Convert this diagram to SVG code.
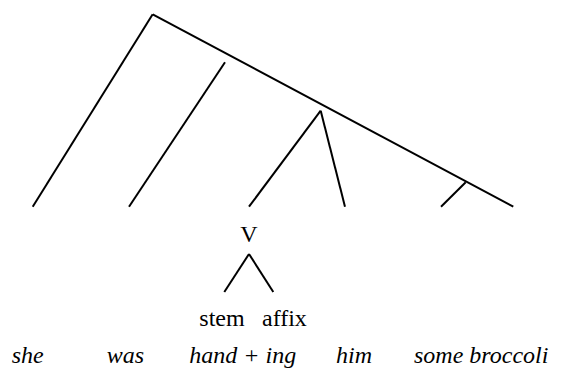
<svg xmlns="http://www.w3.org/2000/svg" width="564" height="374" viewBox="0 0 564 374">
<style>
.e{stroke:#000;stroke-width:2;fill:none}
text{font-family:'Liberation Serif','DejaVu Serif',serif;font-size:24px;fill:#000}
.i{font-style:italic}
</style>
<rect width="564" height="374" fill="#fff"/>
<g id="connectors">
<line class="e" x1="152.7" y1="14.3" x2="32.7" y2="206.7"/>
<line class="e" x1="152.7" y1="14.3" x2="513.3" y2="206.7"/>
<line class="e" x1="225" y1="62.3" x2="129" y2="206.7"/>
<line class="e" x1="320.7" y1="110.7" x2="249" y2="206.7"/>
<line class="e" x1="320.7" y1="110.7" x2="345" y2="206.7"/>
<line class="e" x1="465.7" y1="182.3" x2="441" y2="206.7"/>
<line class="e" x1="249" y1="254" x2="224.3" y2="292"/>
<line class="e" x1="249" y1="254" x2="273.3" y2="292"/>
</g>
<g id="V"><text x="249" y="242" text-anchor="middle">V</text></g>
<g id="stem"><text x="199.3" y="326">stem</text></g>
<g id="affix"><text x="262" y="326">affix</text></g>
<g id="she"><text class="i" x="11.7" y="363">she</text></g>
<g id="was"><text class="i" x="106.7" y="363">was</text></g>
<g id="hand"><text class="i" x="189.3" y="363">hand + ing</text></g>
<g id="him"><text class="i" x="336" y="363">him</text></g>
<g id="broccoli"><text class="i" x="414" y="363">some broccoli</text></g>
</svg>
